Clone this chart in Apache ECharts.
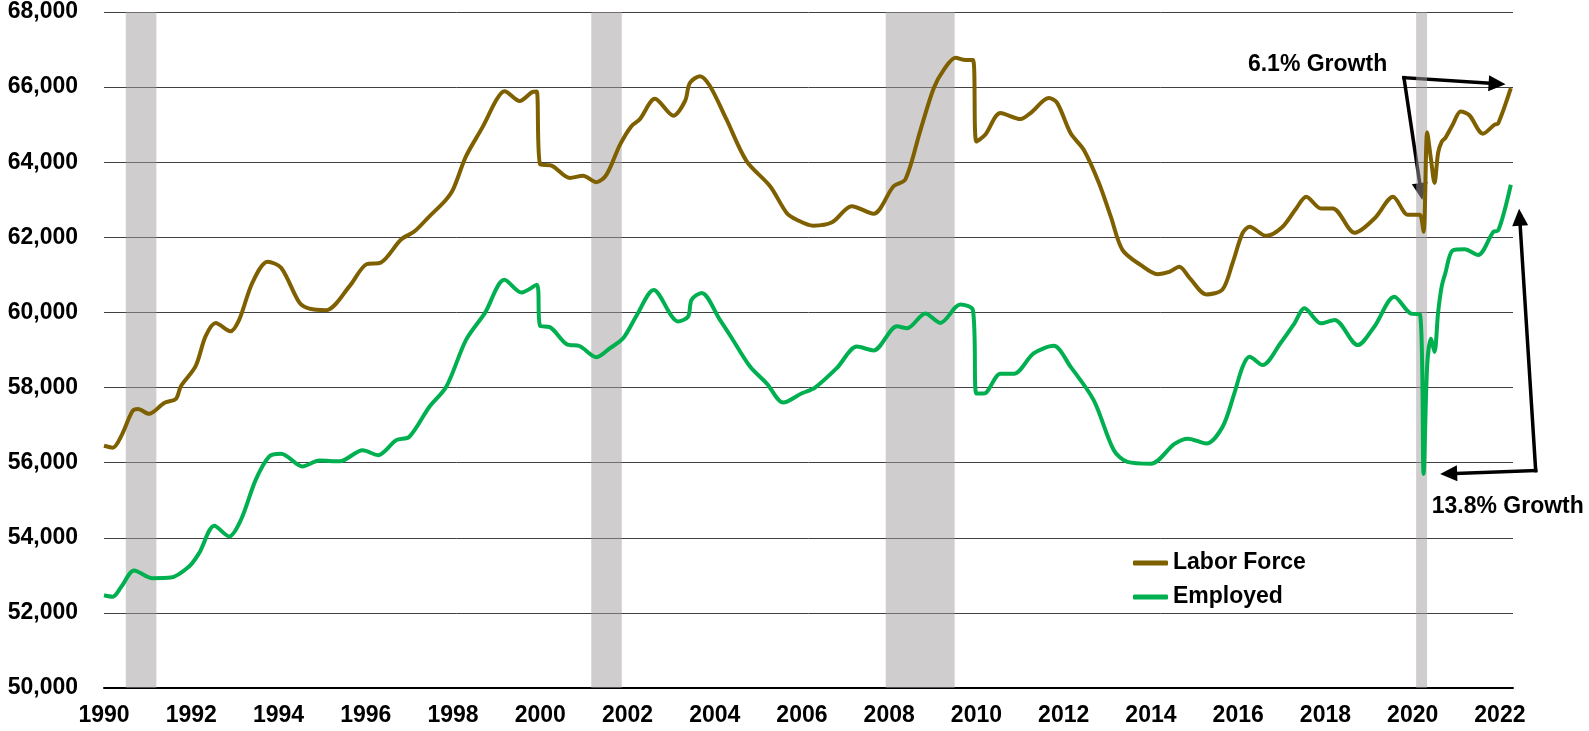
<!DOCTYPE html>
<html>
<head>
<meta charset="utf-8">
<script src="https://cdn.jsdelivr.net/npm/echarts@6.0.0/dist/echarts.min.js"></script>
<style>
  body { margin: 0; background: #fff; }
  #chart { width: 1589px; height: 731px; }
</style>
</head>
<body>
<div id="chart"></div>
<script>
// labor force, thousands (decimal year -> value)
const lfYears = [1990.0, 1990.2, 1990.4, 1990.65, 1990.78, 1991.03, 1991.38, 1991.65, 1991.76, 1992.1,
  1992.33, 1992.56, 1992.9, 1993.1, 1993.4, 1993.75, 1994.06, 1994.48, 1994.71, 1995.09,
  1995.63, 1996.01, 1996.35, 1996.81, 1997.12, 1997.46, 1997.81, 1998.0, 1998.3, 1998.69,
  1999.0, 1999.18, 1999.53, 1999.83, 1999.92, 2000.0, 2000.26, 2000.68, 2000.98, 2001.29,
  2001.52, 2001.83, 2002.09, 2002.28, 2002.63, 2003.05, 2003.32, 2003.43, 2003.66, 2003.89,
  2004.27, 2004.73, 2005.27, 2005.65, 2005.88, 2006.26, 2006.69, 2007.14, 2007.64, 2008.1,
  2008.37, 2008.71, 2009.02, 2009.25, 2009.52, 2009.75, 2009.92, 2010.0, 2010.2, 2010.55,
  2011.01, 2011.24, 2011.66, 2011.85, 2012.16, 2012.46, 2012.81, 2013.08, 2013.35, 2013.77,
  2014.15, 2014.42, 2014.65, 2014.9, 2015.27, 2015.64, 2015.87, 2016.1, 2016.26, 2016.64,
  2017.0, 2017.33, 2017.56, 2017.9, 2018.17, 2018.67, 2019.13, 2019.55, 2019.89, 2020.083,
  2020.167, 2020.25, 2020.333, 2020.417, 2020.5, 2020.583, 2020.667, 2020.75, 2020.917, 2021.1,
  2021.3, 2021.61, 2021.88, 2021.96, 2022.25];
const lfValues = [56450, 56400, 56720, 57370, 57430, 57300, 57590, 57700, 58030, 58570,
  59370, 59720, 59500, 59810, 60790, 61350, 61190, 60260, 60100, 60060,
  60700, 61280, 61330, 61940, 62160, 62560, 62960, 63270, 64160, 64960,
  65670, 65890, 65630, 65870, 65880, 63940, 63910, 63580, 63640, 63470,
  63670, 64470, 64960, 65140, 65690, 65240, 65630, 66110, 66290, 66030,
  65140, 64030, 63360, 62650, 62470, 62310, 62400, 62830, 62630, 63360,
  63540, 64830, 65970, 66460, 66780, 66720, 66720, 64550, 64730, 65310,
  65150, 65310, 65710, 65580, 64770, 64330, 63440, 62550, 61660, 61260,
  61020, 61080, 61220, 60900, 60480, 60610, 61310, 62110, 62280, 62040,
  62260, 62770, 63080, 62770, 62770, 62120, 62510, 63080, 62600, 62600,
  62600, 62150, 64800, 64100, 63450, 64250, 64550, 64650, 65000, 65350,
  65250, 64760, 65000, 65030, 65970];

// employed, thousands
const empYears = [1990.0, 1990.2, 1990.4, 1990.69, 1991.11, 1991.53, 1991.95, 1992.18, 1992.53, 1992.87,
  1993.14, 1993.48, 1993.79, 1994.06, 1994.55, 1994.94, 1995.4, 1995.93, 1996.28, 1996.7,
  1997.0, 1997.46, 1997.85, 1998.3, 1998.73, 1999.18, 1999.57, 1999.92, 2000.0, 2000.22,
  2000.6, 2000.91, 2001.29, 2001.6, 2001.9, 2002.21, 2002.6, 2003.16, 2003.39, 2003.47,
  2003.7, 2004.12, 2004.39, 2004.81, 2005.2, 2005.57, 2006.0, 2006.3, 2006.8, 2007.26,
  2007.64, 2008.18, 2008.41, 2008.83, 2009.17, 2009.63, 2009.92, 2010.0, 2010.17, 2010.55,
  2010.86, 2011.31, 2011.77, 2012.16, 2012.69, 2013.15, 2013.46, 2014.0, 2014.54, 2014.85,
  2015.27, 2015.64, 2015.91, 2016.1, 2016.26, 2016.56, 2016.98, 2017.29, 2017.52, 2017.9,
  2018.21, 2018.74, 2019.12, 2019.58, 2019.96, 2020.167, 2020.25, 2020.333, 2020.417, 2020.5,
  2020.583, 2020.667, 2020.75, 2020.917, 2021.19, 2021.5, 2021.85, 2021.96, 2022.25];
const empValues = [52470, 52430, 52700, 53130, 52925, 52940, 53235, 53590, 54320, 54035,
  54480, 55550, 56170, 56240, 55900, 56060, 56035, 56330, 56200, 56600,
  56690, 57490, 58030, 59270, 59980, 60870, 60530, 60740, 59640, 59610,
  59160, 59100, 58810, 59050, 59310, 59920, 60600, 59760, 59890, 60340,
  60520, 59800, 59320, 58560, 58100, 57600, 57850, 58000, 58520, 59090,
  58990, 59630, 59580, 59970, 59720, 60210, 60060, 57840, 57840, 58370,
  58370, 58910, 59110, 58550, 57660, 56330, 56020, 55970, 56500, 56640,
  56510, 56950, 57840, 58550, 58820, 58600, 59200, 59710, 60110, 59710,
  59800, 59130, 59620, 60420, 59970, 59950, 55700, 58600, 59300, 58950,
  60000, 60700, 61050, 61650, 61680, 61530, 62150, 62180, 63400];

// recessions (start, end as decimal years)
const recessions = [[1990.5, 1991.2], [2001.17, 2001.87], [2007.92, 2009.5], [2020.08, 2020.33]];

const FONT = 'Arial, "Liberation Sans", sans-serif';

const chart = echarts.init(document.getElementById('chart'));

function fmt(v) {
  return String(v).replace(/\B(?=(\d{3})+(?!\d))/g, ',');
}

chart.setOption({
  animation: false,
  grid: { left: 104, right: 76, top: 12, bottom: 43, containLabel: false },
  xAxis: {
    type: 'value',
    min: 1990,
    max: 2022.3,
    interval: 2,
    axisLine: { show: true, lineStyle: { color: '#000', width: 2 } },
    axisTick: { show: false },
    splitLine: { show: false },
    axisLabel: {
      margin: 16,
      color: '#000',
      fontFamily: FONT,
      fontSize: 23,
      fontWeight: 'bold',
      showMaxLabel: false,
      formatter: v => (Number.isInteger(v) && v % 2 === 0) ? String(v) : ''
    }
  },
  yAxis: {
    type: 'value',
    min: 50000,
    max: 68000,
    interval: 2000,
    axisLine: { show: false },
    axisTick: { show: false },
    splitLine: { lineStyle: { color: '#404040', width: 1 } },
    axisLabel: {
      margin: 26,
      color: '#000',
      fontFamily: FONT,
      fontSize: 23,
      fontWeight: 'bold',
      formatter: v => fmt(v)
    }
  },
  legend: {
    orient: 'vertical',
    left: 1128,
    top: 546,
    icon: 'roundRect',
    itemWidth: 35,
    itemHeight: 5,
    itemGap: 10,
    textStyle: { color: '#000', fontFamily: FONT, fontSize: 23, fontWeight: 'bold', lineHeight: 24 },
    data: ['Labor Force', 'Employed']
  },
  series: [
    {
      name: 'Labor Force',
      type: 'line',
      smooth: 0.3,
      symbol: 'none',
      lineStyle: { color: '#7f6000', width: 4 },
      itemStyle: { color: '#7f6000' },
      data: lfYears.map((y, i) => [y, lfValues[i]]),
      markArea: {
        silent: true,
        itemStyle: { color: 'rgba(159,155,155,0.5)' },
        data: recessions.map(r => [{ xAxis: r[0] }, { xAxis: r[1] }])
      }
    },
    {
      name: 'Employed',
      type: 'line',
      smooth: 0.3,
      symbol: 'none',
      lineStyle: { color: '#00b050', width: 4 },
      itemStyle: { color: '#00b050' },
      data: empYears.map((y, i) => [y, empValues[i]])
    }
  ]
});

// annotation anchors in data space [year, value]
const growth1 = { label: [2017.82, 66590], from: [2019.8, 66250], to: [[2022.13, 66075], [2020.22, 62995]] };
const growth2 = { label: [2022.18, 54820], from: [2022.82, 55790], to: [[2022.44, 62760], [2020.63, 55700]] };

function px(p) {
  return chart.convertToPixel({ gridIndex: 0 }, p);
}

function arrow(a, b) {
  const dx = b[0] - a[0], dy = b[1] - a[1];
  const len = Math.hypot(dx, dy);
  const ux = dx / len, uy = dy / len;
  const head = 17, half = 8;
  const bx = b[0] - ux * head, by = b[1] - uy * head;
  return [
    { type: 'line', shape: { x1: a[0], y1: a[1], x2: bx, y2: by }, style: { stroke: '#000', lineWidth: 3.5, lineCap: 'square' } },
    { type: 'polygon', shape: { points: [[b[0], b[1]], [bx - uy * half, by + ux * half], [bx + uy * half, by - ux * half]] }, style: { fill: '#000' } }
  ];
}

const gfx = [];
[[growth1, '6.1% Growth'], [growth2, '13.8% Growth']].forEach(([g, txt]) => {
  const o = px(g.from);
  g.to.forEach(t => gfx.push(...arrow(o, px(t))));
  const l = px(g.label);
  gfx.push({
    type: 'text', x: l[0], y: l[1], z: 10,
    style: { text: txt, fill: '#000', font: 'bold 23px ' + FONT, align: 'center', verticalAlign: 'middle' }
  });
});
chart.setOption({ graphic: gfx });
</script>
</body>
</html>
